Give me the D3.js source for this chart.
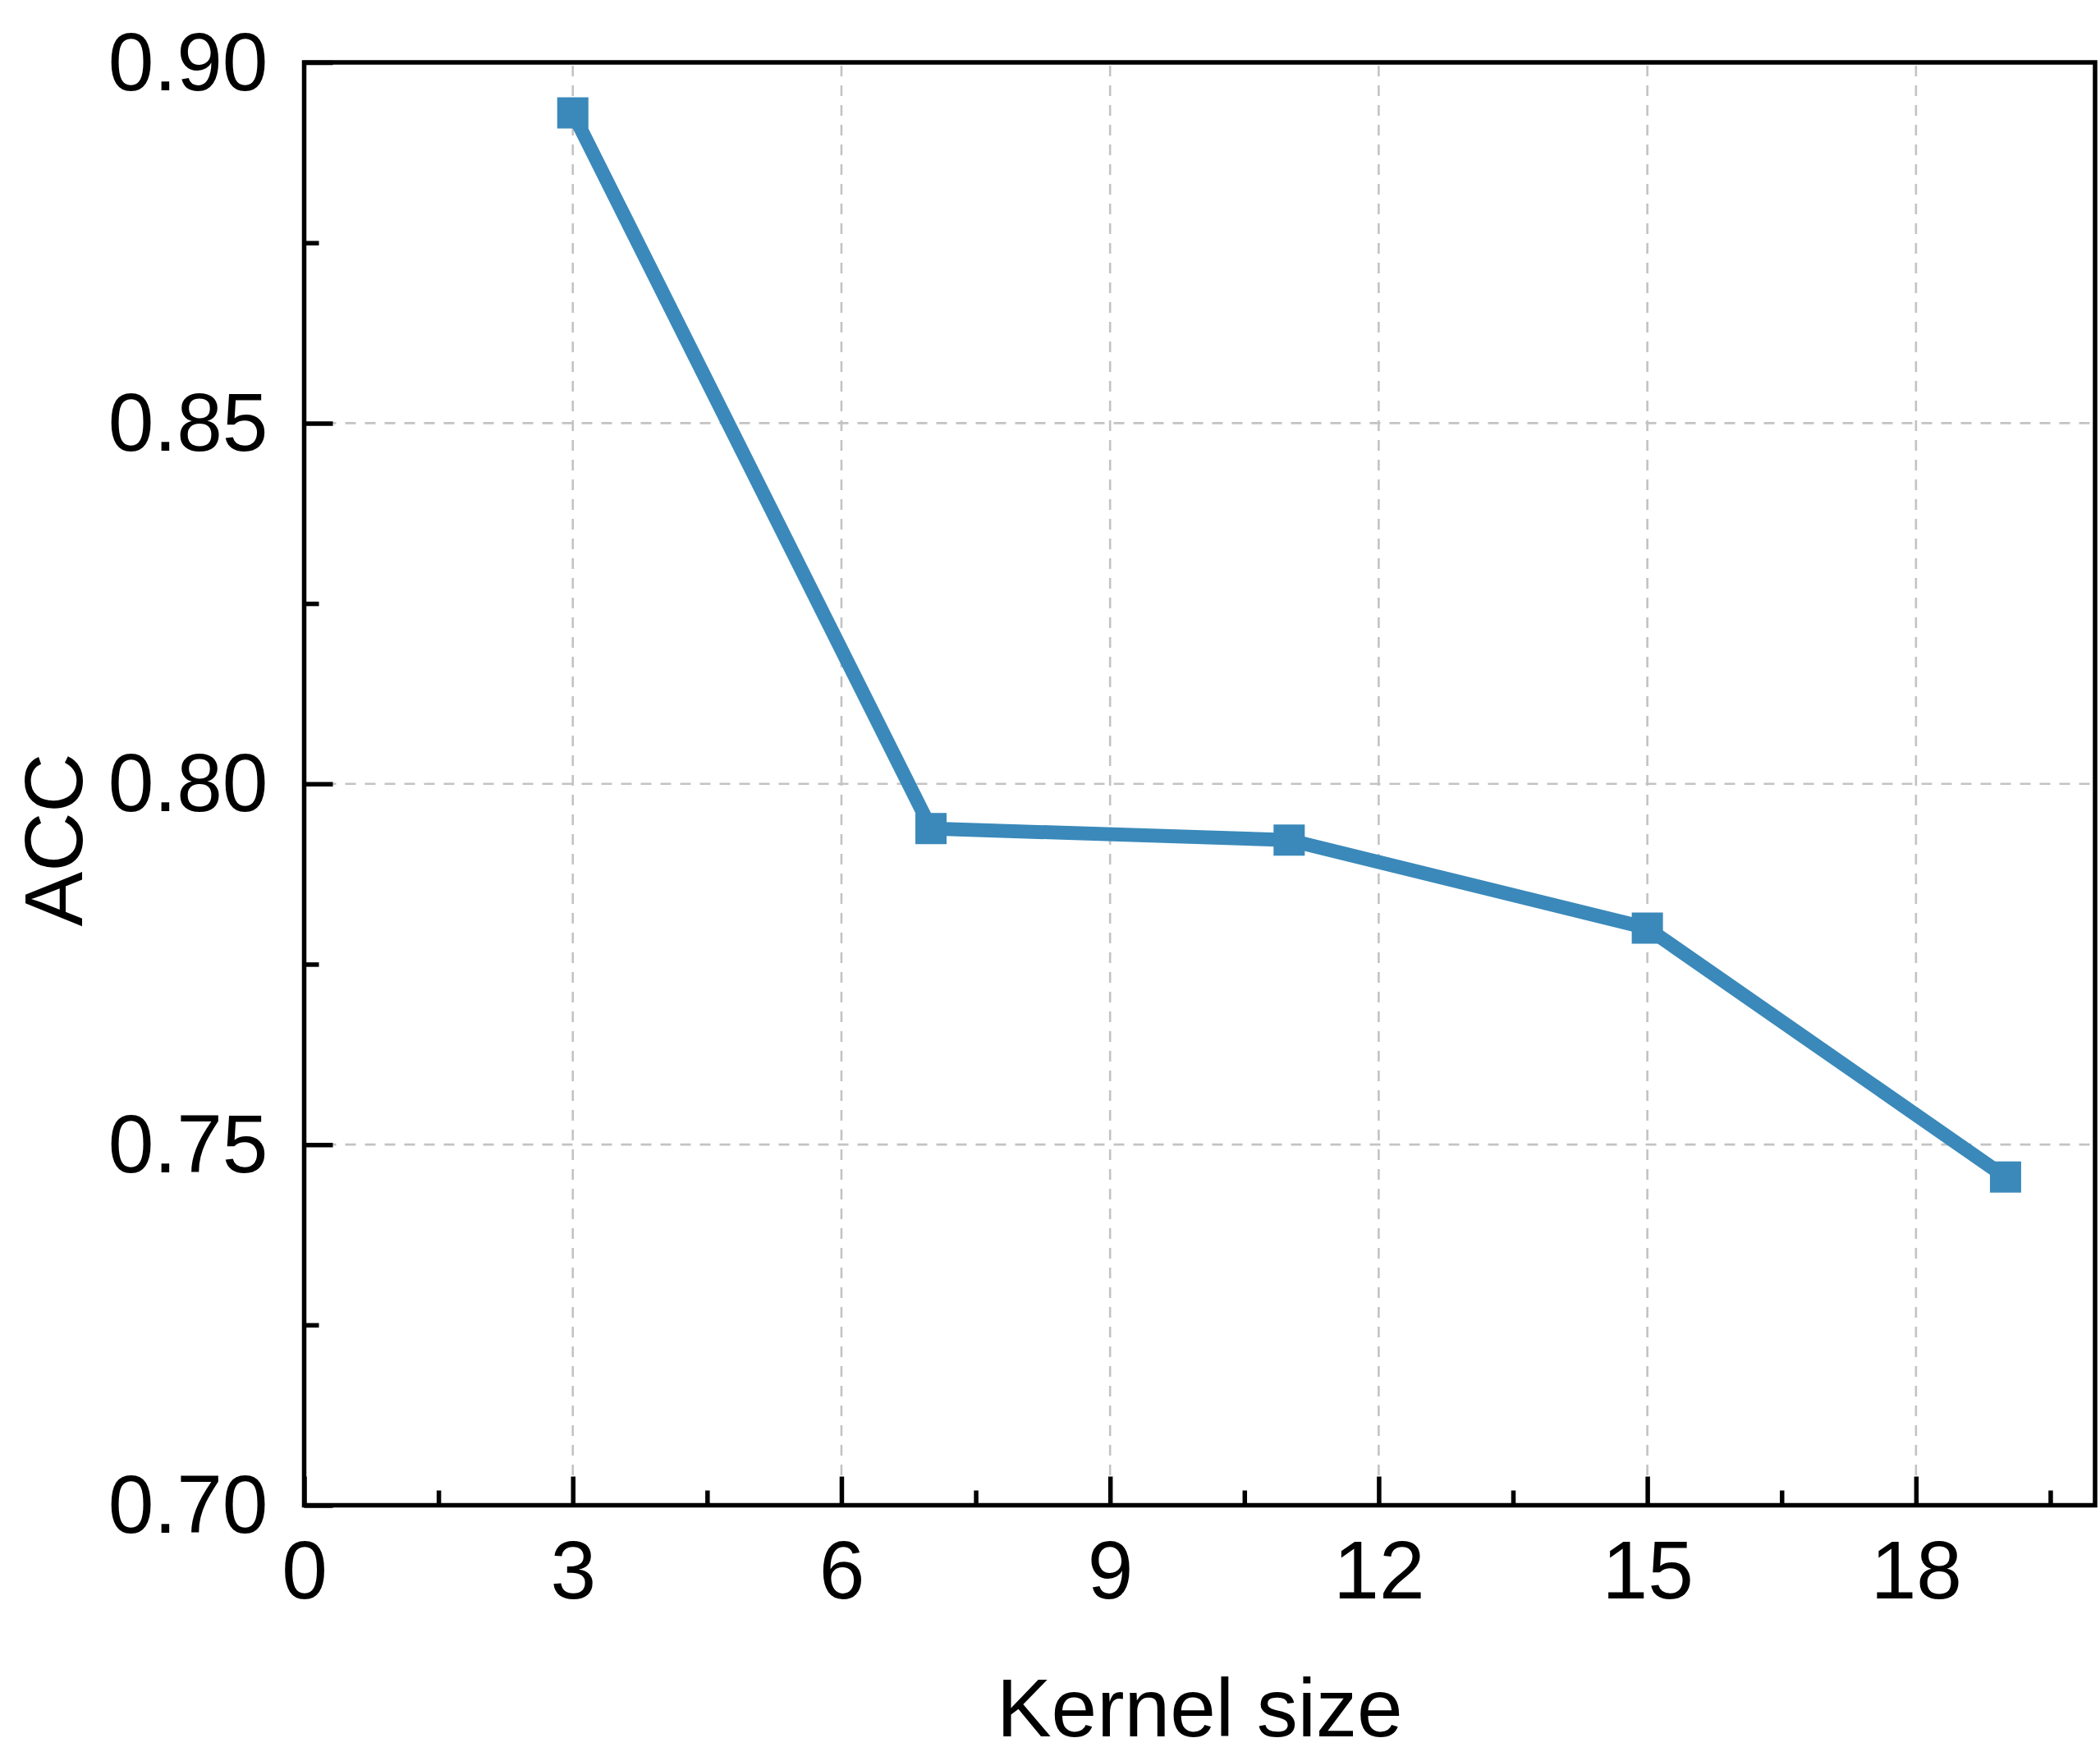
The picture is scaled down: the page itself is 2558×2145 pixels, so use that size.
<!DOCTYPE html>
<html>
<head>
<meta charset="utf-8">
<script src="https://cdn.jsdelivr.net/npm/d3@7"></script>
<style>
  html, body { margin: 0; padding: 0; background: #fff; }
  svg { display: block; }
  text { font-family: "Liberation Sans", Arial, sans-serif; fill: #000; }
</style>
</head>
<body>
<script>
// ---- data ----
const kernelSizes = [3, 7, 11, 15, 19];
const accValues = [0.893, 0.7938, 0.7922, 0.780, 0.7455];
const xTicks = [0, 3, 6, 9, 12, 15, 18];
const xMinorTicks = [1.5, 4.5, 7.5, 10.5, 13.5, 16.5, 19.5];
const yTicks = [0.70, 0.75, 0.80, 0.85, 0.90];
const yMinorTicks = [0.725, 0.775, 0.825, 0.875];
const xTitle = "Kernel size";
const yTitle = "ACC";

// ---- layout ----
const W = 2558, H = 2145;
const L = 370.5, R = 2552, T = 76, B = 1833.5;
const color = "#3A89BA";

const svg = d3.select("body").append("svg").attr("width", W).attr("height", H);

const x = d3.scaleLinear().domain([0, 20]).range([L, R]);
const y = d3.scaleLinear().domain([0.70, 0.90]).range([B, T]);

// gridlines
const grid = svg.append("g").attr("stroke", "#c3c3c3").attr("stroke-width", 2.6)
  .attr("stroke-dasharray", "13,11");
grid.selectAll("line.gx").data(xTicks.filter(d => d > 0)).enter().append("line")
  .attr("x1", d => x(d)).attr("x2", d => x(d)).attr("y1", T + 4).attr("y2", B - 2);
grid.selectAll("line.gy").data(yTicks.filter(d => d > 0.70 && d < 0.90)).enter().append("line")
  .attr("y1", d => y(d)).attr("y2", d => y(d)).attr("x1", L + 2).attr("x2", R - 3);

// axes with inward ticks
const fmtY = d3.format(".2f");
const xAxis = svg.append("g").attr("transform", `translate(0,${B})`)
  .call(d3.axisBottom(x).tickValues(xTicks).tickSizeInner(-35).tickSizeOuter(0).tickPadding(0).tickFormat(d3.format("d")));
const xAxisMinor = svg.append("g").attr("transform", `translate(0,${B})`)
  .call(d3.axisBottom(x).tickValues(xMinorTicks).tickSizeInner(-18).tickSizeOuter(0).tickFormat(""));
const yAxis = svg.append("g").attr("transform", `translate(${L},0)`)
  .call(d3.axisLeft(y).tickValues(yTicks).tickSizeInner(-35).tickSizeOuter(0).tickPadding(0).tickFormat(fmtY));
const yAxisMinor = svg.append("g").attr("transform", `translate(${L},0)`)
  .call(d3.axisLeft(y).tickValues(yMinorTicks).tickSizeInner(-18).tickSizeOuter(0).tickFormat(""));

[xAxis, xAxisMinor, yAxis, yAxisMinor].forEach(g => {
  g.select(".domain").remove();
  g.selectAll(".tick line").attr("stroke", "#000").attr("stroke-width", 5.5);
});
xAxis.selectAll(".tick text")
  .attr("font-size", 100).attr("font-family", "Liberation Sans, Arial, sans-serif")
  .attr("fill", "#000").attr("dy", null).attr("y", 113);
yAxis.selectAll(".tick text")
  .attr("font-size", 100).attr("font-family", "Liberation Sans, Arial, sans-serif")
  .attr("fill", "#000").attr("dy", null).attr("x", -44).attr("y", 33);

// series line
const line = d3.line().x((d, i) => x(kernelSizes[i])).y(d => y(d));
svg.append("path").datum(accValues)
  .attr("d", line).attr("fill", "none").attr("stroke", color)
  .attr("stroke-width", 17).attr("stroke-linejoin", "miter");

// markers
const ms = 38;
svg.selectAll("rect.mk").data(accValues).enter().append("rect")
  .attr("x", (d, i) => x(kernelSizes[i]) - ms / 2)
  .attr("y", d => y(d) - ms / 2)
  .attr("width", ms).attr("height", ms).attr("fill", color);

// frame
svg.append("rect").attr("x", L).attr("y", T).attr("width", R - L).attr("height", B - T)
  .attr("fill", "none").attr("stroke", "#000").attr("stroke-width", 5.5);

// titles
svg.append("text").attr("x", (L + R) / 2).attr("y", 2115)
  .attr("text-anchor", "middle").attr("font-size", 100).text(xTitle);
svg.append("text").attr("transform", "translate(100,1023) rotate(-90)")
  .attr("text-anchor", "middle").attr("font-size", 100).text(yTitle);
</script>
</body>
</html>
